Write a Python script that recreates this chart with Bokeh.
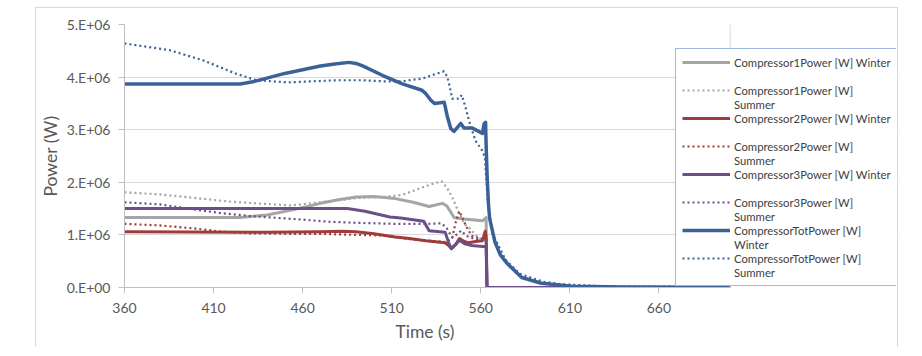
from bokeh.plotting import figure
from bokeh.models import Range1d, FixedTicker, Legend, LegendItem, Title, Span
from bokeh.embed import file_html
from bokeh.resources import INLINE

# ---------------- data (time in s, power in W) ----------------
t_c1_winter = [360, 425, 440, 455, 470, 480, 490, 500, 512, 522, 531, 538.5, 541, 545, 550, 555, 561, 563, 563.5, 700]
p_c1_winter = [1.33e6, 1.33e6, 1.38e6, 1.48e6, 1.60e6, 1.67e6, 1.72e6, 1.73e6, 1.69e6, 1.62e6, 1.54e6, 1.60e6, 1.55e6,
               1.33e6, 1.30e6, 1.29e6, 1.27e6, 1.33e6, 0, 0]

t_c1_summer = [360, 380, 400, 420, 434, 453, 470, 490, 505, 516, 527, 533, 538, 541, 544, 548, 551, 554, 557, 561, 563, 563.5, 700]
p_c1_summer = [1.81e6, 1.77e6, 1.70e6, 1.63e6, 1.60e6, 1.56e6, 1.62e6, 1.70e6, 1.72e6, 1.76e6, 1.90e6, 1.97e6, 2.02e6,
               1.90e6, 1.71e6, 1.40e6, 1.20e6, 1.12e6, 1.00e6, 0.90e6, 0.90e6, 0, 0]

t_c2_winter = [360, 440, 470, 482, 490, 500, 512, 520, 529, 540, 542, 543.5, 546, 548, 550.5, 553, 558, 561, 562.5, 563, 563.5, 700]
p_c2_winter = [1.06e6, 1.05e6, 1.06e6, 1.07e6, 1.06e6, 1.02e6, 0.96e6, 0.93e6, 0.89e6, 0.85e6, 0.80e6, 0.74e6, 0.82e6,
               0.93e6, 0.88e6, 0.85e6, 0.88e6, 0.89e6, 1.07e6, 0.95e6, 0, 0]

t_c2_summer = [360, 380, 400, 415, 430, 453, 470, 490, 505, 520, 535, 541, 544, 546, 548, 550, 552, 555, 558, 561, 563, 563.5, 700]
p_c2_summer = [1.21e6, 1.18e6, 1.12e6, 1.06e6, 1.03e6, 1.02e6, 1.02e6, 1.00e6, 0.99e6, 0.92e6, 0.88e6, 0.86e6, 0.95e6,
               1.25e6, 1.45e6, 1.30e6, 1.15e6, 0.98e6, 0.95e6, 0.93e6, 0.93e6, 0, 0]

t_c3_winter = [360, 440, 485, 495, 509, 515, 528, 531, 540, 542, 543.5, 546, 548, 551, 555, 561, 563, 563.5, 700]
p_c3_winter = [1.50e6, 1.50e6, 1.50e6, 1.45e6, 1.34e6, 1.32e6, 1.26e6, 1.08e6, 1.05e6, 0.85e6, 0.74e6, 0.82e6, 0.90e6,
               0.83e6, 0.80e6, 0.78e6, 0.78e6, 0, 0]

t_c3_summer = [360, 380, 400, 415, 430, 443, 460, 475, 490, 512, 530, 538, 541, 544, 547, 549, 552, 556, 561, 563, 563.5, 700]
p_c3_summer = [1.62e6, 1.58e6, 1.48e6, 1.41e6, 1.36e6, 1.33e6, 1.29e6, 1.25e6, 1.23e6, 1.21e6, 1.21e6, 1.22e6, 1.12e6,
               0.95e6, 1.02e6, 1.08e6, 0.98e6, 0.93e6, 0.90e6, 0.90e6, 0, 0]

t_tot_winter = [360, 425, 432, 441, 450, 460, 470, 478, 486, 490, 494, 505, 516, 527, 529, 532, 534, 539.5, 541.3, 543.2,
                545, 548.8, 550.6, 555.3, 561, 561.8, 562.7, 563.1, 563.6, 564.3, 565, 568, 571, 575, 583, 594, 611,
                640, 700]
p_tot_winter = [3.87e6, 3.87e6, 3.91e6, 3.99e6, 4.07e6, 4.14e6, 4.21e6, 4.25e6, 4.28e6, 4.26e6, 4.21e6, 4.03e6, 3.87e6,
                3.75e6, 3.69e6, 3.56e6, 3.50e6, 3.52e6, 3.24e6, 3.02e6, 2.97e6, 3.12e6, 3.03e6, 3.03e6, 2.93e6,
                3.11e6, 3.14e6, 2.60e6, 2.10e6, 1.60e6, 1.31e6, 0.86e6, 0.62e6, 0.45e6, 0.19e6, 0.08e6, 0.025e6,
                0.01e6, 0.005e6]

t_tot_summer = [360, 385.5, 404, 423, 434, 452, 479, 494, 505, 516, 521.7, 527, 533.8, 539.4, 541.3, 542.6, 544, 548,
                549.3, 551.4, 553.4, 557, 560.5, 562.3, 563, 564, 566.5, 574, 582, 587, 595, 606, 630, 700]
p_tot_summer = [4.64e6, 4.51e6, 4.32e6, 4.06e6, 3.94e6, 3.90e6, 3.94e6, 3.94e6, 3.92e6, 3.92e6, 3.95e6, 3.97e6, 4.05e6,
                4.11e6, 4.00e6, 3.81e6, 3.59e6, 3.59e6, 3.66e6, 3.43e6, 3.17e6, 2.79e6, 2.62e6, 2.48e6, 2.10e6,
                1.60e6, 1.03e6, 0.52e6, 0.26e6, 0.20e6, 0.11e6, 0.06e6, 0.02e6, 0.01e6]

x_min, x_max = 360, 700
y_min, y_max = 0, 5e6
x_ticks = [360, 410, 460, 510, 560, 610, 660]
y_ticks = [0.0, 1e6, 2e6, 3e6, 4e6, 5e6]
y_tick_labels = ["0.E+00", "1.E+06", "2.E+06", "3.E+06", "4.E+06", "5.E+06"]

# legend entries as wrapped in the original: (first line, second line)
legend_lines = [
    ("Compressor1Power [W] Winter", " "),
    ("Compressor1Power [W]", "Summer"),
    ("Compressor2Power [W] Winter", " "),
    ("Compressor2Power [W]", "Summer"),
    ("Compressor3Power [W] Winter", " "),
    ("Compressor3Power [W]", "Summer"),
    ("CompressorTotPower [W]", "Winter"),
    ("CompressorTotPower [W]", "Summer"),
]

# ---------------- styling ----------------
GRAY = "#A5A5A5"
RED = "#A03B39"
PURPLE = "#6A5088"
BLUE = "#3B6199"
TEXT = "#595959"
AX = "#BFBFBF"
FONT = "Lato"

W, H = 863, 340
LEFT, TOP = 85, 16
PLOT_W = 608            # 360..700 s across the plot area
FRAME_W = 775           # frame continues under the overhanging legend
PLOT_H = 263
x_end = x_min + (x_max - x_min) * FRAME_W / PLOT_W

p = figure(width=W, height=H, output_backend="svg", toolbar_location=None,
           x_range=Range1d(x_min, x_end), y_range=Range1d(y_min, y_max),
           min_border_left=LEFT, min_border_right=W - LEFT - FRAME_W, min_border_top=TOP,
           min_border_bottom=H - TOP - PLOT_H, y_axis_label="Power (W)")
p.margin = (7, 0, 0, 35)
p.styles = {"border-top": "1px solid #D9D9D9", "border-left": "1px solid #D9D9D9",
            "border-right": "1px solid #D9D9D9"}
p.outline_line_color = None

series = [
    (t_c1_winter, p_c1_winter, GRAY, 3, None),
    (t_c1_summer, p_c1_summer, GRAY, 2.2, "2 3"),
    (t_c2_winter, p_c2_winter, RED, 3, None),
    (t_c2_summer, p_c2_summer, RED, 2.2, "2 3"),
    (t_c3_winter, p_c3_winter, PURPLE, 3, None),
    (t_c3_summer, p_c3_summer, PURPLE, 2.2, "2 3"),
    (t_tot_winter, p_tot_winter, BLUE, 3.5, None),
    (t_tot_summer, p_tot_summer, BLUE, 2.2, "2 3"),
]

p.xgrid.visible = False
p.ygrid.grid_line_color = "#D9D9D9"
p.ygrid.grid_line_width = 1
p.ygrid.bounds = (x_min, x_max)
p.add_layout(Span(location=x_max, dimension="height", line_color="#D9D9D9", line_width=1))

renderers = []
for (tx, py, col, w, dash) in series:
    kw = dict(line_color=col, line_width=w, line_join="round")
    if dash:
        kw["line_dash"] = dash
    renderers.append(p.line(tx, py, **kw))

# key-less spacer for the wrapped second line of each legend entry
spacer = p.line(x=[], y=[], line_alpha=0)

items = []
for r, (first, second) in zip(renderers, legend_lines):
    items.append(LegendItem(label=first, renderers=[r]))
    items.append(LegendItem(label=second, renderers=[spacer]))

p.xaxis.ticker = FixedTicker(ticks=x_ticks)
p.xaxis.bounds = (x_min, x_max)
p.yaxis.ticker = FixedTicker(ticks=y_ticks)
p.yaxis.major_label_overrides = dict(zip(y_ticks, y_tick_labels))

for ax in (p.xaxis, p.yaxis):
    ax.axis_line_color = AX
    ax.major_tick_line_color = AX
    ax.major_tick_out = 6
    ax.major_tick_in = 0
    ax.minor_tick_line_color = None
    ax.major_label_text_font = FONT
    ax.major_label_text_font_size = "14px"
    ax.major_label_text_color = TEXT
    ax.axis_label_text_font = FONT
    ax.axis_label_text_font_size = "17.5px"
    ax.axis_label_text_font_style = "normal"
    ax.axis_label_text_color = TEXT
p.yaxis.major_label_standoff = 8
p.xaxis.major_label_standoff = 9
p.yaxis.axis_label_standoff = 3

p.add_layout(Title(text="Time (s)", align="left", offset=271, standoff=6,
                   text_font=FONT, text_font_size="17.5px", text_font_style="normal", text_color=TEXT), "below")

legend = Legend(items=items, location=(551, 1), ncols=1)
legend.border_line_color = "#4472C4"
legend.border_line_width = 1
legend.background_fill_color = "white"
legend.background_fill_alpha = 1
legend.label_text_font = FONT
legend.label_text_font_size = "11.3px"
legend.label_text_color = "#404040"
legend.glyph_width = 48
legend.glyph_height = 14
legend.label_height = 14
legend.label_standoff = 4
legend.spacing = 0
legend.padding = 6
legend.margin = 0
p.add_layout(legend)

open("out.html", "w").write(file_html(p, INLINE))
